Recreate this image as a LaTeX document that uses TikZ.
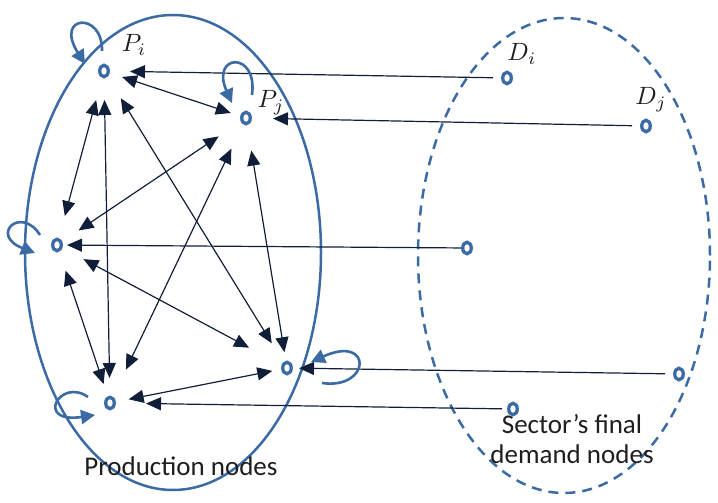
\documentclass[tikz,border=0pt]{standalone}
\usepackage{fontspec}
\newfontfamily\labfont{Carlito}
\usetikzlibrary{arrows.meta,calc,shapes.geometric}
\definecolor{nodeblue}{RGB}{59,106,164}
\definecolor{navy}{RGB}{16,30,58}
\definecolor{txt}{RGB}{30,30,30}
\begin{document}
\begin{tikzpicture}[x=1pt,y=-1pt,
  ring/.style={ellipse,draw=nodeblue,line width=3.3pt,fill=white,minimum width=8.5pt,minimum height=11.5pt,inner sep=0pt},
  link/.style={draw=navy,line width=1.2pt,{Triangle[length=15pt,width=13pt]}-{Triangle[length=15pt,width=13pt]}},
  feed/.style={draw=navy,line width=1.2pt,-{Triangle[length=15pt,width=13pt]}},
  loopy/.style={draw=nodeblue,line width=2.6pt,-{Triangle[length=14pt,width=14pt]}},
  mlab/.style={text=txt,inner sep=0pt},
  tlab/.style={font=\labfont\fontsize{27}{30}\selectfont,text=txt,inner sep=0pt,align=center}]
\useasboundingbox (0,0) rectangle (718,503);
% groups
\draw[nodeblue,line width=2.5pt] (173,252.5) ellipse [x radius=148pt,y radius=237.5pt];
\draw[nodeblue,line width=2.5pt,dash pattern=on 10pt off 7pt] (564,255.5) ellipse [x radius=146pt,y radius=237.5pt];
% nodes
\node[ring] (Pi) at (104,71) {};
\node[ring] (Pj) at (246,118) {};
\node[ring] (P3) at (57,245) {};
\node[ring] (P4) at (287,368) {};
\node[ring] (P5) at (110,403) {};
\node[ring] (Di) at (507,78) {};
\node[ring] (Dj) at (646,126) {};
\node[ring] (D3) at (467,248) {};
\node[ring] (D4) at (679,374) {};
\node[ring] (D5) at (513,409) {};
% labels
\node[mlab] (LPi) at (134,45) {\scalebox{2.5}{$P_i$}};
\node[mlab] (LPj) at (271,103) {\scalebox{2.5}{$P_j$}};
\node[mlab] (LDi) at (522,54) {\scalebox{2.5}{$D_i$}};
\node[mlab] (LDj) at (651,100) {\scalebox{2.5}{$D_j$}};
\node[tlab,anchor=base] (Lprod) at (181,475) {Production nodes};
\node[tlab,anchor=base] (Ldem) at (572,463) {Sector’s final\\demand nodes};
% links between production nodes
\draw[link,shorten <=19pt,shorten >=16pt] (Pi.center) -- (Pj.center);
\draw[link,shorten <=30pt,shorten >=30pt] (Pi.center) -- (P3.center);
\draw[link,shorten <=29pt,shorten >=25pt] (Pi.center) -- (P5.center);
\draw[link,shorten <=32pt,shorten >=29pt] (Pi.center) -- (P4.center);
\draw[link,shorten <=33pt,shorten >=26pt] (Pj.center) -- (P3.center);
\draw[link,shorten <=34pt,shorten >=37pt] (Pj.center) -- (P5.center);
\draw[link,shorten <=33pt,shorten >=16pt] (Pj.center) -- (P4.center);
\draw[link,shorten <=30pt,shorten >=43pt] (P3.center) -- (P4.center);
\draw[link,shorten <=27pt,shorten >=20pt] (P3.center) -- (P5.center);
\draw[link,shorten <=15pt,shorten >=19pt] (P4.center) -- (P5.center);
% final demand feeds
\draw[feed,shorten <=14pt,shorten >=26pt] (Di.center) -- (Pi.center);
\draw[feed,shorten <=14pt,shorten >=27pt] (Dj.center) -- (Pj.center);
\draw[feed,shorten <=6pt,shorten >=10pt] (D3.center) -- (P3.center);
\draw[feed,shorten <=14pt,shorten >=12pt] (D4.center) -- (P4.center);
\draw[feed,shorten <=11pt,shorten >=36pt] (D5.center) -- (P5.center);
% self loops
\draw[loopy] ($(Pi.center)+(-2,-20)$) .. controls ($(Pi.center)+(-1,-60)$) and ($(Pi.center)+(-50,-56)$) .. ($(Pi.center)+(-19,-7)$);
\draw[loopy] ($(Pj.center)+(6,-23)$) .. controls ($(Pj.center)+(12,-68)$) and ($(Pj.center)+(-36,-64)$) .. ($(Pj.center)+(-14,-15)$);
\draw[loopy] ($(P3.center)+(-17,-10)$) .. controls ($(P3.center)+(-36,-40)$) and ($(P3.center)+(-68,-10)$) .. ($(P3.center)+(-22,8)$);
\draw[loopy] ($(P4.center)+(35,15)$) .. controls ($(P4.center)+(84,22)$) and ($(P4.center)+(86,-34)$) .. ($(P4.center)+(24,-6)$);
\draw[loopy] ($(P5.center)+(-22,-6)$) .. controls ($(P5.center)+(-50,-26)$) and ($(P5.center)+(-76,21)$) .. ($(P5.center)+(-15,12)$);
\end{tikzpicture}
\end{document}
